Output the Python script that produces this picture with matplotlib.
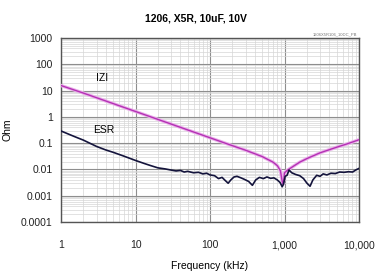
import matplotlib.pyplot as plt
from matplotlib.ticker import LogLocator, NullFormatter, FixedLocator

plt.rcParams["font.family"] = ["Liberation Sans", "DejaVu Sans"]

# |Z| curve (frequency in kHz, impedance in Ohm)
z_freq = [1, 2, 5, 10, 20, 50, 100, 200, 300, 500, 700, 800, 880, 930,
          960, 1000, 1100, 1300, 1600, 2000, 3000, 5000, 7000, 10000]
z_ohm = [15.5, 8.0, 3.2, 1.6, 0.8, 0.32, 0.16, 0.08, 0.054, 0.031, 0.019,
         0.014, 0.009, 0.0035, 0.0028, 0.0075, 0.0095, 0.013, 0.019, 0.026,
         0.043, 0.07, 0.095, 0.135]

# ESR curve
esr_freq = [1, 1.5, 2, 3, 4, 5, 7, 10, 13, 16, 20, 25, 30, 35, 40, 45, 50,
            60, 70, 80, 90, 100, 115, 130, 145, 160, 175, 190, 210, 230, 260,
            290, 330, 370, 410, 460, 520, 580, 650, 720, 800, 870, 930, 970,
            1020, 1080, 1150, 1250, 1400, 1600, 1800, 2000, 2200, 2400, 2700,
            3000, 3300, 3700, 4200, 4800, 5500, 6300, 7200, 8200, 9000, 10000]
esr_ohm = [0.29, 0.18, 0.13, 0.075, 0.055, 0.045, 0.032, 0.022, 0.017, 0.014,
           0.0115, 0.0105, 0.0095, 0.0088, 0.0092, 0.0080, 0.0085, 0.0075,
           0.0078, 0.0068, 0.0072, 0.0062, 0.0058, 0.0045, 0.0050, 0.0038,
           0.0030, 0.0040, 0.0052, 0.0055, 0.0048, 0.0042, 0.0035, 0.0025,
           0.0040, 0.0050, 0.0045, 0.0052, 0.0046, 0.0048, 0.0040, 0.0032,
           0.0022, 0.0028, 0.0055, 0.0060, 0.0095, 0.0075, 0.0065, 0.0058,
           0.0045, 0.0030, 0.0023, 0.0040, 0.0060, 0.0055, 0.0068, 0.0062,
           0.0072, 0.0070, 0.0080, 0.0078, 0.0082, 0.0080, 0.0095, 0.011]

x_ticks = [1, 10, 100, 1000, 10000]
x_labels = ["1", "10", "100", "1,000", "10,000"]
y_ticks = [0.0001, 0.001, 0.01, 0.1, 1, 10, 100, 1000]
y_labels = ["0.0001", "0.001", "0.01", "0.1", "1", "10", "100", "1000"]

fig = plt.figure(figsize=(3.84, 2.79), dpi=100)
ax = fig.add_axes([0.159, 0.204, 0.776, 0.660])

ax.plot(z_freq, z_ohm, color="#eab0ea", linewidth=2.4, zorder=3)
ax.plot(z_freq, z_ohm, color="#b432b4", linewidth=1.0, zorder=4)
ax.plot(esr_freq, esr_ohm, color="#14143c", linewidth=1.2, zorder=5)

ax.set_xscale("log")
ax.set_yscale("log")
ax.set_xlim(1, 10000)
ax.set_ylim(0.0001, 1000)

ax.xaxis.set_major_locator(FixedLocator(x_ticks))
ax.set_xticklabels(x_labels)
ax.xaxis.set_minor_locator(LogLocator(base=10, subs=range(2, 10), numticks=20))
ax.xaxis.set_minor_formatter(NullFormatter())
ax.yaxis.set_major_locator(FixedLocator(y_ticks))
ax.set_yticklabels(y_labels)
ax.yaxis.set_minor_locator(LogLocator(base=10, subs=range(2, 10), numticks=20))
ax.yaxis.set_minor_formatter(NullFormatter())

ax.grid(which="major", color="#8e8e8e", linewidth=0.8)
ax.grid(which="minor", color="#d6d6d6", linewidth=0.5)
ax.tick_params(which="both", length=0, labelsize=7.5, colors="#222222")
ax.tick_params(axis="x", pad=13)
ax.tick_params(axis="y", pad=6)
for s in ax.spines.values():
    s.set_color("#555555")
    s.set_linewidth(1.0)

ax.set_xlabel("Frequency (kHz)", fontsize=7.5, labelpad=8)
ax.set_ylabel("Ohm", fontsize=7.5, labelpad=6)
fig.text(0.51, 0.935, "1206, X5R, 10uF, 10V", ha="center", va="center",
         fontsize=7.5, fontweight="bold")
ax.text(0.995, 1.01, "1206X5R106_10DC_PB", transform=ax.transAxes,
        ha="right", va="bottom", fontsize=3, color="#777777")

ax.text(3.5, 30, "IZI", fontsize=7.5, ha="center", va="center")
ax.text(3.8, 0.33, "ESR", fontsize=7.5, ha="center", va="center")

plt.savefig("out.png", dpi=100)
